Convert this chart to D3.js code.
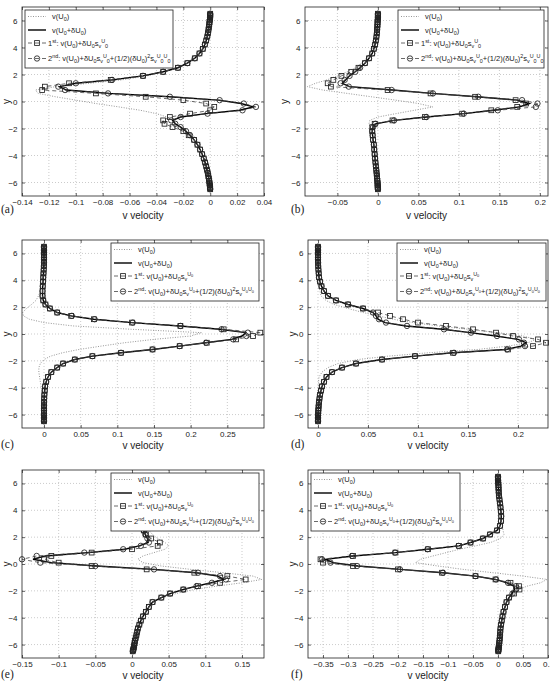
<!DOCTYPE html>
<html>
<head>
<meta charset="utf-8">
<script src="https://cdn.jsdelivr.net/npm/d3@7"></script>
<style>
  body { margin: 0; background: #fff; }
  svg { display: block; }
  text { font-family: "Liberation Sans", Arial, Helvetica, sans-serif; white-space: pre; }
</style>
</head>
<body>
<svg id="fig" width="550" height="684"></svg>
<script>
// y positions of the grid points (same for every panel)
const yGrid = [6.5, 6.42, 6.32, 6.2, 6.06, 5.9, 5.72, 5.52, 5.3, 5.06,
  4.8, 4.52, 4.22, 3.9, 3.56, 3.2, 2.84, 2.5, 2.2, 1.9,
  1.6, 1.35, 1.1, 0.85, 0.6, 0.35, 0.1, -0.15, -0.4, -0.65,
  -0.9, -1.15, -1.4, -1.65, -1.9, -2.2, -2.5, -2.84, -3.2, -3.56,
  -3.9, -4.22, -4.52, -4.8, -5.06, -5.3, -5.52, -5.72, -5.9, -6.06,
  -6.2, -6.32, -6.42, -6.5];

const yTicks = [-6, -4, -2, 0, 2, 4, 6];
const ticksA = [-0.14, -0.12, -0.1, -0.08, -0.06, -0.04, -0.02, 0, 0.02, 0.04];
const ticksB = [-0.05, 0, 0.05, 0.1, 0.15, 0.2];
const ticksC = [0, 0.05, 0.1, 0.15, 0.2, 0.25];
const ticksD = [0, 0.05, 0.1, 0.15, 0.2];
const ticksE = [-0.15, -0.1, -0.05, 0, 0.05, 0.1, 0.15];
const ticksF = [-0.35, -0.3, -0.25, -0.2, -0.15, -0.1, -0.05, 0, 0.05, 0.1];

const legendOld = ["v(U_0)", "v(U_0+δU_0)", "1^{st}: v(U_0)+δU_0s_v^U_0",
  "2^{nd}: v(U_0)+δU_0s_v^U_0+(1/2)(δU_0)^2s_v^U_0^U_0"];
const legendNew = ["v(U_0)", "v(U_0+δU_0)", "1^{st}: v(U_0)+δU_0s_v^{U_0}",
  "2^{nd}: v(U_0)+δU_0s_v^{U_0}+(1/2)(δU_0)^2s_v^{U_0U_0}"];

// ---- panel (a)
const aBase = [0, 0, 0, -0.0001, -0.0003, -0.0005, -0.0008, -0.0011, -0.0015, -0.002,
  -0.0026, -0.0035, -0.0047, -0.0065, -0.009, -0.013, -0.018, -0.025, -0.034, -0.047,
  -0.066, -0.09, -0.115, -0.13, -0.128, -0.115, -0.1, -0.085, -0.068, -0.052,
  -0.04, -0.032, -0.028, -0.025, -0.022, -0.018, -0.015, -0.012, -0.0095, -0.0075,
  -0.006, -0.0048, -0.0038, -0.003, -0.0024, -0.0018, -0.0014, -0.001, -0.0007, -0.0005,
  -0.0003, -0.0002, -0.0001, 0];
const aPert = [0, 0, 0, -0.0001, -0.0003, -0.0005, -0.0007, -0.001, -0.0013, -0.0017,
  -0.0022, -0.003, -0.004, -0.0055, -0.008, -0.0115, -0.017, -0.024, -0.035, -0.05,
  -0.073, -0.1, -0.112, -0.107, -0.075, -0.03, 0.006, 0.023, 0.032, 0.022,
  -0.003, -0.022, -0.028, -0.026, -0.022, -0.018, -0.015, -0.012, -0.0095, -0.0075,
  -0.006, -0.0048, -0.0038, -0.003, -0.0024, -0.0018, -0.0014, -0.001, -0.0007, -0.0005,
  -0.0003, -0.0002, -0.0001, 0];
const aFirst = [0, 0, 0, -0.0001, -0.0003, -0.0005, -0.0007, -0.001, -0.0013, -0.0017,
  -0.0022, -0.003, -0.004, -0.0055, -0.008, -0.0115, -0.017, -0.024, -0.035, -0.05,
  -0.074, -0.105, -0.123, -0.125, -0.085, -0.048, -0.02, -0.003, 0.003, 0.0,
  -0.015, -0.03, -0.035, -0.034, -0.028, -0.02, -0.016, -0.012, -0.0095, -0.0075,
  -0.006, -0.0048, -0.0038, -0.003, -0.0024, -0.0018, -0.0014, -0.001, -0.0007, -0.0005,
  -0.0003, -0.0002, -0.0001, 0];
const aSecond = [0, 0, 0, -0.0001, -0.0003, -0.0005, -0.0007, -0.001, -0.0013, -0.0017,
  -0.0022, -0.003, -0.004, -0.0055, -0.008, -0.0115, -0.017, -0.024, -0.035, -0.05,
  -0.073, -0.1, -0.113, -0.108, -0.076, -0.03, 0.007, 0.025, 0.034, 0.024,
  -0.002, -0.022, -0.029, -0.026, -0.022, -0.018, -0.015, -0.012, -0.0095, -0.0075,
  -0.006, -0.0048, -0.0038, -0.003, -0.0024, -0.0018, -0.0014, -0.001, -0.0007, -0.0005,
  -0.0003, -0.0002, -0.0001, 0];

// ---- panel (b)
const bBase = [0, 0, 0, 0, -0.0002, -0.0004, -0.0006, -0.0009, -0.0013, -0.0018,
  -0.0025, -0.0035, -0.005, -0.007, -0.01, -0.014, -0.02, -0.028, -0.038, -0.05,
  -0.063, -0.077, -0.087, -0.068, -0.038, -0.008, 0.022, 0.05, 0.068, 0.045,
  0.022, 0.0, -0.01, -0.011, -0.009, -0.008, -0.007, -0.0065, -0.006, -0.005,
  -0.0045, -0.004, -0.0033, -0.0027, -0.0022, -0.0017, -0.0013, -0.001, -0.0007, -0.0005,
  -0.0003, -0.0002, -0.0001, 0];
const bPert = [0, 0, 0, 0, -0.0002, -0.0004, -0.0005, -0.0007, -0.001, -0.0013,
  -0.0018, -0.0025, -0.0035, -0.005, -0.007, -0.011, -0.016, -0.022, -0.028, -0.035,
  -0.04, -0.044, -0.035, 0.018, 0.067, 0.122, 0.172, 0.187, 0.175, 0.143,
  0.106, 0.06, 0.02, -0.003, -0.006, -0.007, -0.0065, -0.006, -0.005, -0.0045,
  -0.004, -0.0035, -0.003, -0.0025, -0.002, -0.0016, -0.0012, -0.0009, -0.0006, -0.0004,
  -0.0003, -0.0002, -0.0001, 0];
const bFirst = [0, 0, 0, 0, -0.0002, -0.0004, -0.0005, -0.0007, -0.001, -0.0013,
  -0.0018, -0.0025, -0.0035, -0.005, -0.007, -0.011, -0.016, -0.024, -0.033, -0.045,
  -0.055, -0.062, -0.058, 0.012, 0.065, 0.12, 0.17, 0.183, 0.172, 0.14,
  0.104, 0.058, 0.018, -0.004, -0.007, -0.007, -0.0065, -0.006, -0.005, -0.0045,
  -0.004, -0.0035, -0.003, -0.0025, -0.002, -0.0016, -0.0012, -0.0009, -0.0006, -0.0004,
  -0.0003, -0.0002, -0.0001, 0];
const bSecond = [0, 0, 0, 0, -0.0002, -0.0004, -0.0005, -0.0007, -0.001, -0.0013,
  -0.0018, -0.0025, -0.0035, -0.005, -0.007, -0.011, -0.016, -0.022, -0.028, -0.035,
  -0.041, -0.046, -0.036, 0.017, 0.068, 0.124, 0.178, 0.197, 0.195, 0.148,
  0.106, 0.06, 0.02, -0.003, -0.006, -0.007, -0.0065, -0.006, -0.005, -0.0045,
  -0.004, -0.0035, -0.003, -0.0025, -0.002, -0.0016, -0.0012, -0.0009, -0.0006, -0.0004,
  -0.0003, -0.0002, -0.0001, 0];

// ---- panel (c)
const cBase = [0, 0, 0, 0, 0, 0, 0, -0.0002, -0.0004, -0.0006,
  -0.0009, -0.0013, -0.0018, -0.0025, -0.0035, -0.005, -0.0075, -0.011, -0.017, -0.024,
  -0.029, -0.028, -0.02, 0.0, 0.04, 0.12, 0.215, 0.2, 0.15, 0.11,
  0.078, 0.048, 0.025, 0.009, 0.0, -0.005, -0.007, -0.007, -0.006, -0.005,
  -0.004, -0.003, -0.002, -0.0015, -0.001, -0.0007, -0.0005, -0.0003, -0.0002, -0.0001,
  0, 0, 0, 0];
const cPert = [0, 0, 0, 0, 0, 0, 0, 0, 0, -0.0002,
  -0.0004, -0.0007, -0.001, -0.0013, -0.0017, -0.002, -0.002, -0.001, 0.002, 0.008,
  0.018, 0.037, 0.068, 0.12, 0.185, 0.24, 0.275, 0.27, 0.256, 0.22,
  0.185, 0.148, 0.105, 0.066, 0.042, 0.026, 0.018, 0.01, 0.0055, 0.003,
  0.0015, 0.001, 0.0005, 0.0003, 0.0002, 0.0001, 0, 0, 0, 0,
  0, 0, 0, 0];
const cFirst = [0, 0, 0, 0, 0, 0, 0, 0, 0, -0.0002,
  -0.0004, -0.0007, -0.001, -0.0013, -0.0017, -0.002, -0.002, -0.001, 0.002, 0.008,
  0.018, 0.037, 0.068, 0.12, 0.186, 0.245, 0.295, 0.285, 0.262, 0.222,
  0.185, 0.148, 0.105, 0.066, 0.042, 0.026, 0.018, 0.01, 0.0055, 0.003,
  0.0015, 0.001, 0.0005, 0.0003, 0.0002, 0.0001, 0, 0, 0, 0,
  0, 0, 0, 0];
const cSecond = [0, 0, 0, 0, 0, 0, 0, 0, 0, -0.0002,
  -0.0004, -0.0007, -0.001, -0.0013, -0.0017, -0.002, -0.002, -0.001, 0.002, 0.008,
  0.018, 0.038, 0.069, 0.121, 0.186, 0.242, 0.278, 0.276, 0.258, 0.221,
  0.185, 0.148, 0.105, 0.066, 0.042, 0.026, 0.018, 0.01, 0.0055, 0.003,
  0.0015, 0.001, 0.0005, 0.0003, 0.0002, 0.0001, 0, 0, 0, 0,
  0, 0, 0, 0];

// ---- panel (d)
const dBase = [0, 0, 0, 0, 0, 0, 0, 0, 0, 0,
  0, 0, 0.0003, 0.0006, 0.001, 0.002, 0.003, 0.008, 0.016, 0.03,
  0.045, 0.06, 0.075, 0.095, 0.12, 0.15, 0.18, 0.205, 0.218, 0.21,
  0.19, 0.16, 0.11, 0.07, 0.04, 0.02, 0.01, 0.004, 0.001, 0.0005,
  0.0003, 0.0002, 0.0001, 0, 0, 0, 0, 0, 0, 0,
  0, 0, 0, 0];
const dPert = [0, 0, 0, 0, 0, 0, 0, 0, 0.0001, 0.0002,
  0.0004, 0.0007, 0.001, 0.002, 0.0035, 0.006, 0.01, 0.018, 0.03, 0.045,
  0.055, 0.058, 0.06, 0.067, 0.088, 0.125, 0.152, 0.178, 0.2, 0.208,
  0.203, 0.188, 0.135, 0.097, 0.064, 0.038, 0.024, 0.014, 0.0085, 0.006,
  0.004, 0.003, 0.002, 0.0015, 0.001, 0.0007, 0.0005, 0.0003, 0.0002, 0.0001,
  0, 0, 0, 0];
const dFirst = [0, 0, 0, 0, 0, 0, 0, 0, 0.0001, 0.0002,
  0.0004, 0.0007, 0.001, 0.002, 0.0035, 0.006, 0.01, 0.018, 0.03, 0.045,
  0.06, 0.072, 0.085, 0.1, 0.128, 0.155, 0.178, 0.195, 0.22, 0.228,
  0.215, 0.19, 0.135, 0.097, 0.064, 0.038, 0.024, 0.014, 0.0085, 0.006,
  0.004, 0.003, 0.002, 0.0015, 0.001, 0.0007, 0.0005, 0.0003, 0.0002, 0.0001,
  0, 0, 0, 0];
const dSecond = [0, 0, 0, 0, 0, 0, 0, 0, 0.0001, 0.0002,
  0.0004, 0.0007, 0.001, 0.002, 0.0035, 0.006, 0.01, 0.018, 0.03, 0.045,
  0.055, 0.058, 0.061, 0.068, 0.089, 0.126, 0.153, 0.179, 0.201, 0.206,
  0.207, 0.189, 0.136, 0.097, 0.064, 0.038, 0.024, 0.014, 0.0085, 0.006,
  0.004, 0.003, 0.002, 0.0015, 0.001, 0.0007, 0.0005, 0.0003, 0.0002, 0.0001,
  0, 0, 0, 0];

// ---- panel (e)
const eBase = [0, 0, 0, 0.0005, 0.001, 0.0015, 0.002, 0.003, 0.004, 0.005,
  0.006, 0.0075, 0.009, 0.011, 0.013, 0.016, 0.019, 0.023, 0.028, 0.035,
  0.045, 0.05, 0.045, 0.03, 0.015, 0.008, 0.015, 0.04, 0.08, 0.125,
  0.165, 0.177, 0.15, 0.115, 0.085, 0.06, 0.042, 0.029, 0.022, 0.017,
  0.013, 0.011, 0.009, 0.0075, 0.0065, 0.0055, 0.0045, 0.004, 0.0035, 0.003,
  0.0025, 0.002, 0.0015, 0.001];
const ePert = [0, 0, 0, 0.0005, 0.001, 0.0015, 0.002, 0.0025, 0.003, 0.004,
  0.005, 0.006, 0.0075, 0.009, 0.011, 0.013, 0.0145, 0.016, 0.018, 0.021,
  0.022, 0.01, -0.01, -0.06, -0.118, -0.135, -0.11, -0.048, 0.03, 0.088,
  0.117, 0.125, 0.108, 0.088, 0.07, 0.052, 0.04, 0.028, 0.023, 0.019,
  0.015, 0.012, 0.01, 0.008, 0.007, 0.006, 0.005, 0.004, 0.0035, 0.003,
  0.0025, 0.002, 0.0015, 0.001];
const eFirst = [0, 0, 0, 0.0005, 0.001, 0.0015, 0.002, 0.0025, 0.003, 0.004,
  0.005, 0.006, 0.0075, 0.009, 0.011, 0.013, 0.0145, 0.016, 0.019, 0.026,
  0.038, 0.035, 0.0, -0.055, -0.11, -0.12, -0.1, -0.055, 0.02, 0.085,
  0.13, 0.155, 0.12, 0.09, 0.07, 0.052, 0.04, 0.028, 0.023, 0.019,
  0.015, 0.012, 0.01, 0.008, 0.007, 0.006, 0.005, 0.004, 0.0035, 0.003,
  0.0025, 0.002, 0.0015, 0.001];
const eSecond = [0, 0, 0, 0.0005, 0.001, 0.0015, 0.002, 0.0025, 0.003, 0.004,
  0.005, 0.006, 0.0075, 0.009, 0.011, 0.013, 0.0145, 0.016, 0.018, 0.021,
  0.023, 0.012, -0.012, -0.065, -0.13, -0.15, -0.125, -0.05, 0.03, 0.09,
  0.12, 0.128, 0.109, 0.088, 0.07, 0.052, 0.04, 0.028, 0.023, 0.019,
  0.015, 0.012, 0.01, 0.008, 0.007, 0.006, 0.005, 0.004, 0.0035, 0.003,
  0.0025, 0.002, 0.0015, 0.001];

// ---- panel (f)
const fBase = [0, 0, 0, 0.0002, 0.0005, 0.0008, 0.001, 0.0013, 0.0017, 0.002,
  0.0025, 0.003, 0.0035, 0.0045, 0.0055, 0.007, 0.009, 0.01, 0.012, 0.005,
  -0.015, -0.045, -0.077, -0.103, -0.13, -0.155, -0.165, -0.12, -0.07, -0.01,
  0.05, 0.098, 0.085, 0.058, 0.042, 0.031, 0.024, 0.018, 0.014, 0.011,
  0.009, 0.0075, 0.006, 0.005, 0.0045, 0.004, 0.0035, 0.003, 0.0025, 0.002,
  0.0015, 0.001, 0.0008, 0.0005];
const fPert = [0, 0, 0, 0.0002, 0.0005, 0.0008, 0.001, 0.0012, 0.0015, 0.002,
  0.003, 0.004, 0.005, 0.006, 0.0065, 0.006, 0.004, -0.002, -0.016, -0.03,
  -0.055, -0.078, -0.14, -0.205, -0.29, -0.345, -0.33, -0.28, -0.195, -0.11,
  -0.045, -0.005, 0.018, 0.032, 0.033, 0.028, 0.022, 0.017, 0.014, 0.011,
  0.009, 0.0075, 0.006, 0.005, 0.0045, 0.004, 0.0035, 0.003, 0.0025, 0.002,
  0.0015, 0.001, 0.0008, 0.0005];
const fFirst = [0, 0, 0, 0.0002, 0.0005, 0.0008, 0.001, 0.0012, 0.0015, 0.002,
  0.003, 0.004, 0.005, 0.006, 0.0065, 0.006, 0.004, -0.002, -0.016, -0.03,
  -0.055, -0.078, -0.14, -0.205, -0.29, -0.355, -0.35, -0.29, -0.2, -0.112,
  -0.045, -0.005, 0.025, 0.042, 0.043, 0.032, 0.022, 0.017, 0.014, 0.011,
  0.009, 0.0075, 0.006, 0.005, 0.0045, 0.004, 0.0035, 0.003, 0.0025, 0.002,
  0.0015, 0.001, 0.0008, 0.0005];
const fSecond = [0, 0, 0, 0.0002, 0.0005, 0.0008, 0.001, 0.0012, 0.0015, 0.002,
  0.003, 0.004, 0.005, 0.006, 0.0065, 0.006, 0.004, -0.002, -0.016, -0.03,
  -0.055, -0.079, -0.141, -0.206, -0.292, -0.352, -0.335, -0.282, -0.196, -0.11,
  -0.045, -0.004, 0.02, 0.036, 0.036, 0.029, 0.022, 0.017, 0.014, 0.011,
  0.009, 0.0075, 0.006, 0.005, 0.0045, 0.004, 0.0035, 0.003, 0.0025, 0.002,
  0.0015, 0.001, 0.0008, 0.0005];

// layout of the six panels (pixels)
const panels = [
  {tag: "(a)", xDomain: [-0.14, 0.04], xTicks: ticksA, series: [aBase, aPert, aFirst, aSecond], labels: legendOld,
   box: {l: 22, t: 7, r: 264, b: 196}, leg: {x: 25, y: 10, w: 148, h: 58}, yLabX: 6, tagX: 1, xLabDy: 23, tagDy: 17},
  {tag: "(b)", xDomain: [-0.09, 0.21], xTicks: ticksB, series: [bBase, bPert, bFirst, bSecond], labels: legendOld,
   box: {l: 305, t: 7, r: 548, b: 196}, leg: {x: 398, y: 10, w: 146, h: 58}, yLabX: 284, tagX: 291, xLabDy: 23, tagDy: 17},
  {tag: "(c)", xDomain: [-0.03, 0.30], xTicks: ticksC, series: [cBase, cPert, cFirst, cSecond], labels: legendNew,
   box: {l: 22, t: 240, r: 264, b: 428}, leg: {x: 111, y: 243, w: 148, h: 58}, yLabX: 6, tagX: 1, xLabDy: 21, tagDy: 20},
  {tag: "(d)", xDomain: [-0.01, 0.23], xTicks: ticksD, series: [dBase, dPert, dFirst, dSecond], labels: legendNew,
   box: {l: 308, t: 240, r: 548, b: 428}, leg: {x: 397, y: 243, w: 149, h: 58}, yLabX: 292, tagX: 291, xLabDy: 21, tagDy: 20},
  {tag: "(e)", xDomain: [-0.15, 0.18], xTicks: ticksE, series: [eBase, ePert, eFirst, eSecond], labels: legendNew,
   box: {l: 22, t: 470, r: 264, b: 658}, leg: {x: 111, y: 473, w: 148, h: 58}, yLabX: 6, tagX: 1, xLabDy: 21, tagDy: 20},
  {tag: "(f)", xDomain: [-0.38, 0.1], xTicks: ticksF, series: [fBase, fPert, fFirst, fSecond], labels: legendNew,
   box: {l: 308, t: 470, r: 548, b: 658}, leg: {x: 311, y: 473, w: 149, h: 58}, yLabX: 292, tagX: 291, xLabDy: 21, tagDy: 20}
];

const svg = d3.select("#fig");
const fmt = d => d === 0 ? "0" : String(d).replace("-", "\u2212");
const ink = "#222";

// tiny TeX-like parser: _x / ^x / _{..} / ^{..}
function parseTex(s, shift, scale, out) {
  let i = 0;
  while (i < s.length) {
    const c = s[i];
    if (c === "^" || c === "_") {
      let grp;
      if (s[i + 1] === "{") {
        let depth = 1, j = i + 2;
        while (depth) { if (s[j] === "{") depth++; else if (s[j] === "}") depth--; j++; }
        grp = s.slice(i + 2, j - 1); i = j;
      } else { grp = s[i + 1]; i += 2; }
      parseTex(grp, shift + (c === "^" ? -0.4 : 0.3) * scale, scale * 0.72, out);
    } else { out.push({t: c, shift: shift, scale: scale}); i++; }
  }
  return out;
}

function texText(sel, str, size) {
  const runs = [];
  parseTex(str, 0, 1, []).forEach(p => {
    const last = runs[runs.length - 1];
    if (last && last.shift === p.shift && last.scale === p.scale) last.t += p.t;
    else runs.push(Object.assign({}, p));
  });
  let cur = 0;
  runs.forEach(r => {
    sel.append("tspan").attr("dy", ((r.shift - cur) * size).toFixed(2))
      .attr("font-size", (r.scale * size).toFixed(2)).text(r.t);
    cur = r.shift;
  });
}

panels.forEach(p => {
  const b = p.box;
  const x = d3.scaleLinear().domain(p.xDomain).range([b.l, b.r]);
  const y = d3.scaleLinear().domain([-7, 7]).range([b.b, b.t]);
  const g = svg.append("g");

  // dotted grid
  const grid = g.append("g").attr("stroke", "#b4b4b4").attr("stroke-width", 0.7).attr("stroke-dasharray", "1,2");
  grid.selectAll(".gx").data(p.xTicks.filter(t => x(t) > b.l + 1 && x(t) < b.r - 1)).join("line")
    .attr("x1", d => x(d)).attr("x2", d => x(d)).attr("y1", b.t).attr("y2", b.b);
  grid.selectAll(".gy").data(yTicks).join("line")
    .attr("y1", d => y(d)).attr("y2", d => y(d)).attr("x1", b.l).attr("x2", b.r);

  const pts = arr => arr.map((v, i) => [x(v), y(yGrid[i])]);
  const line = d3.line();
  const [base, pert, first, second] = p.series;

  g.append("path").attr("d", line(pts(base))).attr("fill", "none")
    .attr("stroke", "#8a8a8a").attr("stroke-width", 0.9).attr("stroke-dasharray", "1,1.5");
  g.append("path").attr("d", line(pts(pert))).attr("fill", "none")
    .attr("stroke", "#000").attr("stroke-width", 1.4);
  g.append("path").attr("d", line(pts(first))).attr("fill", "none")
    .attr("stroke", "#444").attr("stroke-width", 0.8).attr("stroke-dasharray", "4,3");
  g.append("g").selectAll("rect").data(pts(first)).join("rect")
    .attr("x", d => d[0] - 2.4).attr("y", d => d[1] - 2.4).attr("width", 4.8).attr("height", 4.8)
    .attr("fill", "none").attr("stroke", "#222").attr("stroke-width", 0.85);
  g.append("path").attr("d", line(pts(second))).attr("fill", "none")
    .attr("stroke", "#444").attr("stroke-width", 0.8).attr("stroke-dasharray", "4,3");
  g.append("g").selectAll("circle").data(pts(second)).join("circle")
    .attr("cx", d => d[0]).attr("cy", d => d[1]).attr("r", 2.7)
    .attr("fill", "none").attr("stroke", "#222").attr("stroke-width", 0.85);

  // axes box
  g.append("rect").attr("x", b.l).attr("y", b.t).attr("width", b.r - b.l).attr("height", b.b - b.t)
    .attr("fill", "none").attr("stroke", ink).attr("stroke-width", 0.8);

  const styleAxis = a => {
    a.select(".domain").remove();
    a.attr("font-size", 8).attr("font-family", null);
    a.selectAll(".tick line").attr("stroke", ink).attr("stroke-width", 0.7);
    a.selectAll(".tick text").attr("fill", ink);
  };
  g.append("g").attr("transform", `translate(0,${b.b})`)
    .call(d3.axisBottom(x).tickValues(p.xTicks).tickFormat(fmt).tickSizeInner(-3).tickSizeOuter(0).tickPadding(3))
    .call(styleAxis);
  g.append("g").attr("transform", `translate(0,${b.t})`)
    .call(d3.axisTop(x).tickValues(p.xTicks).tickFormat("").tickSizeInner(-3).tickSizeOuter(0))
    .call(styleAxis);
  g.append("g").attr("transform", `translate(${b.l},0)`)
    .call(d3.axisLeft(y).tickValues(yTicks).tickFormat(fmt).tickSizeInner(-3).tickSizeOuter(0).tickPadding(4.5))
    .call(styleAxis);
  g.append("g").attr("transform", `translate(${b.r},0)`)
    .call(d3.axisRight(y).tickValues(yTicks).tickFormat("").tickSizeInner(-3).tickSizeOuter(0))
    .call(styleAxis);

  // axis titles and panel tag
  g.append("text").attr("x", (b.l + b.r) / 2).attr("y", b.b + p.xLabDy).attr("text-anchor", "middle")
    .attr("font-size", 10).attr("fill", ink).text("v velocity");
  g.append("text").attr("transform", `translate(${p.yLabX + 3.5},${(b.t + b.b) / 2}) rotate(-90)`)
    .attr("text-anchor", "middle").attr("font-size", 10).attr("fill", ink).text("y");
  g.append("text").attr("x", p.tagX).attr("y", b.b + p.tagDy).attr("font-size", 11.5)
    .style("font-family", "'Liberation Serif', 'Times New Roman', serif").attr("fill", ink).text(p.tag);

  // legend
  const L = p.leg;
  const lg = g.append("g");
  lg.append("rect").attr("x", L.x).attr("y", L.y).attr("width", L.w).attr("height", L.h)
    .attr("fill", "#fff").attr("stroke", ink).attr("stroke-width", 0.8);
  const rowOff = [6.5, 20, 33, 48.5];
  const sx0 = L.x + 3, sx1 = L.x + 21, smid = (sx0 + sx1) / 2;
  const styles = [
    {stroke: "#8a8a8a", w: 0.9, dash: "1,1.5"},
    {stroke: "#000", w: 1.4, dash: null},
    {stroke: "#444", w: 0.8, dash: "4,3"},
    {stroke: "#444", w: 0.8, dash: "4,3"}
  ];
  p.labels.forEach((lab, i) => {
    const ry = L.y + rowOff[i];
    const s = styles[i];
    lg.append("line").attr("x1", sx0).attr("x2", sx1).attr("y1", ry).attr("y2", ry)
      .attr("stroke", s.stroke).attr("stroke-width", s.w).attr("stroke-dasharray", s.dash);
    if (i === 2) lg.append("rect").attr("x", smid - 2.4).attr("y", ry - 2.4).attr("width", 4.8).attr("height", 4.8)
      .attr("fill", "none").attr("stroke", "#222").attr("stroke-width", 0.85);
    if (i === 3) lg.append("circle").attr("cx", smid).attr("cy", ry).attr("r", 2.7)
      .attr("fill", "none").attr("stroke", "#222").attr("stroke-width", 0.85);
    const t = lg.append("text").attr("x", L.x + (i < 2 ? 27 : 23)).attr("y", ry + 2.5).attr("fill", ink);
    texText(t, lab, 7.5);
  });
});
</script>
</body>
</html>
